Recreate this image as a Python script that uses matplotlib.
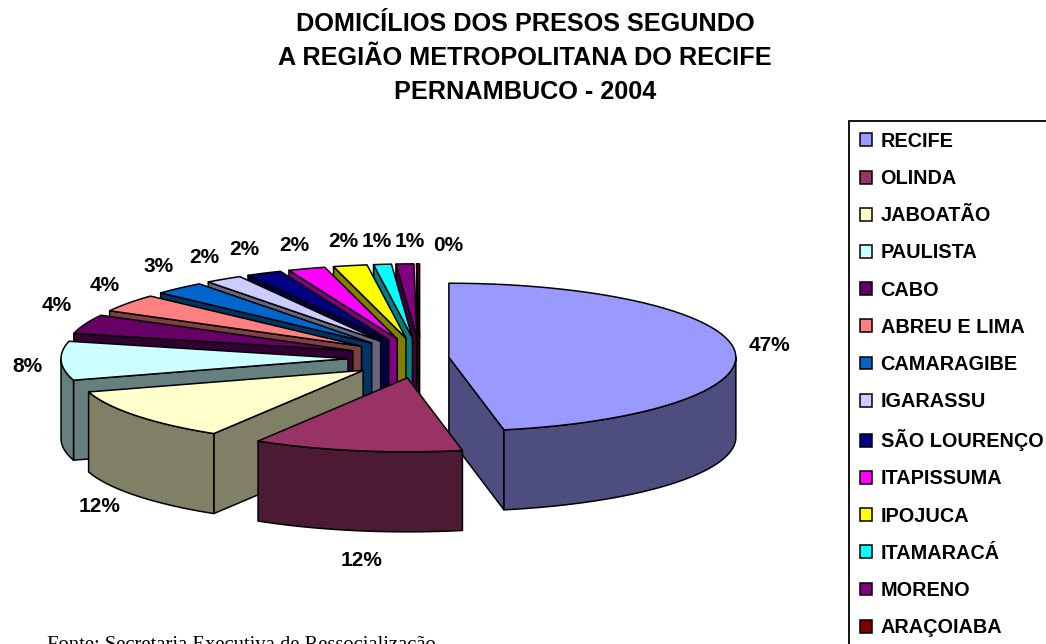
import numpy as np
import matplotlib

matplotlib.use("Agg")
import matplotlib.pyplot as plt
from matplotlib.patches import Patch

TITLE_LINES = [
    "DOMICÍLIOS DOS PRESOS SEGUNDO",
    "A REGIÃO METROPOLITANA DO RECIFE",
    "PERNAMBUCO - 2004",
]
SOURCE = "Fonte: Secretaria Executiva de Ressocialização"

cities = [
    "RECIFE", "OLINDA", "JABOATÃO", "PAULISTA", "CABO", "ABREU E LIMA", "CAMARAGIBE",
    "IGARASSU", "SÃO LOURENÇO", "ITAPISSUMA", "IPOJUCA", "ITAMARACÁ", "MORENO", "ARAÇOIABA",
]
shares = [47.0, 11.8, 11.6, 8.49, 4.2, 3.9, 2.9, 2.1, 2.0, 2.1, 1.9, 1.0, 1.0, 0.17]
colors = [
    "#9999FF", "#993366", "#FFFFCC", "#CCFFFF", "#660066", "#FF8080", "#0066CC",
    "#CCCCFF", "#000080", "#FF00FF", "#FFFF00", "#00FFFF", "#800080", "#800000",
]

# layout, in image pixels
CENTER_X, CENTER_Y = 420, 358
RX, RY, DEPTH = 287, 74, 80
EXPLODE = [29] + [72] * 13
EXPLODE_Y_RATIO = 0.28
LABEL_POS = [
    (769, 345), (362, 560), (100, 506), (27, 366), (57, 305), (105, 285), (159, 266),
    (204, 257), (244, 249), (294, 245), (343, 241), (377, 241), (410, 241), (448, 245),
]
EDGE = dict(edgecolor="black", linewidth=1.1, joinstyle="round")


def rim_points(tip, theta):
    x = tip[0] + RX * np.sin(theta)
    y = tip[1] - RY * np.cos(theta)
    return x, y


def draw_face(ax, tip, theta, color):
    x, y = rim_points(tip, theta)
    ax.fill([tip[0], x, x, tip[0]], [tip[1], y, y + DEPTH, tip[1] + DEPTH], facecolor=color, **EDGE)


def draw_slice(ax, start, end, explode, color):
    mid = (start + end) / 2
    tip = (CENTER_X + explode * np.sin(mid), CENTER_Y - explode * EXPLODE_Y_RATIO * np.cos(mid))
    dark = tuple(c * 0.5 for c in matplotlib.colors.to_rgb(color))

    if np.sin(start) < 0:
        draw_face(ax, tip, start, dark)
    if np.sin(end) > 0:
        draw_face(ax, tip, end, dark)

    front_start = max(start, np.pi / 2)
    front_end = min(end, 3 * np.pi / 2)
    if front_end > front_start:
        theta = np.linspace(front_start, front_end, 60)
        x, y = rim_points(tip, theta)
        ax.fill(np.r_[x, x[::-1]], np.r_[y, y[::-1] + DEPTH], facecolor=dark, **EDGE)

    theta = np.linspace(start, end, 60)
    x, y = rim_points(tip, theta)
    ax.fill(np.r_[tip[0], x], np.r_[tip[1], y], facecolor=color, **EDGE)


fig = plt.figure(figsize=(10.46, 6.44), dpi=100)
ax = fig.add_axes([0, 0, 1, 1])
ax.set_xlim(0, 1046)
ax.set_ylim(644, 0)
ax.axis("off")

values = np.asarray(shares)
bounds = np.r_[0, np.cumsum(values)] / values.sum() * 2 * np.pi

# back to front: Recife, then the small slices round to Olinda
order = [0] + list(range(len(values) - 1, 0, -1))
for i in order:
    draw_slice(ax, bounds[i], bounds[i + 1], EXPLODE[i], colors[i])

for value, (x, y) in zip(shares, LABEL_POS):
    ax.text(x, y, f"{value:.0f}%", ha="center", va="center", fontsize=15,
            fontweight="bold", family="Liberation Sans")

for line, y in zip(TITLE_LINES, (24, 58, 92)):
    ax.text(525, y, line, ha="center", va="center", fontsize=18.2,
            fontweight="bold", family="Liberation Sans")

ax.text(47, 636, SOURCE, ha="left", va="top", fontsize=14.9, family="Liberation Serif")

handles = [Patch(facecolor=c, edgecolor="black", linewidth=1.1) for c in colors]
legend = ax.legend(
    handles, cities, loc="upper left", bbox_to_anchor=(849, 121), bbox_transform=ax.transData,
    prop={"family": "Liberation Sans", "weight": "bold", "size": 14.3},
    frameon=True, fancybox=False, framealpha=1, edgecolor="black", borderaxespad=0,
    handlelength=0.62, handleheight=0.62, handletextpad=0.42, labelspacing=0.915, borderpad=0.55,
)
legend.get_frame().set_linewidth(1.3)

fig.savefig("out.png", dpi=100)
plt.close(fig)
